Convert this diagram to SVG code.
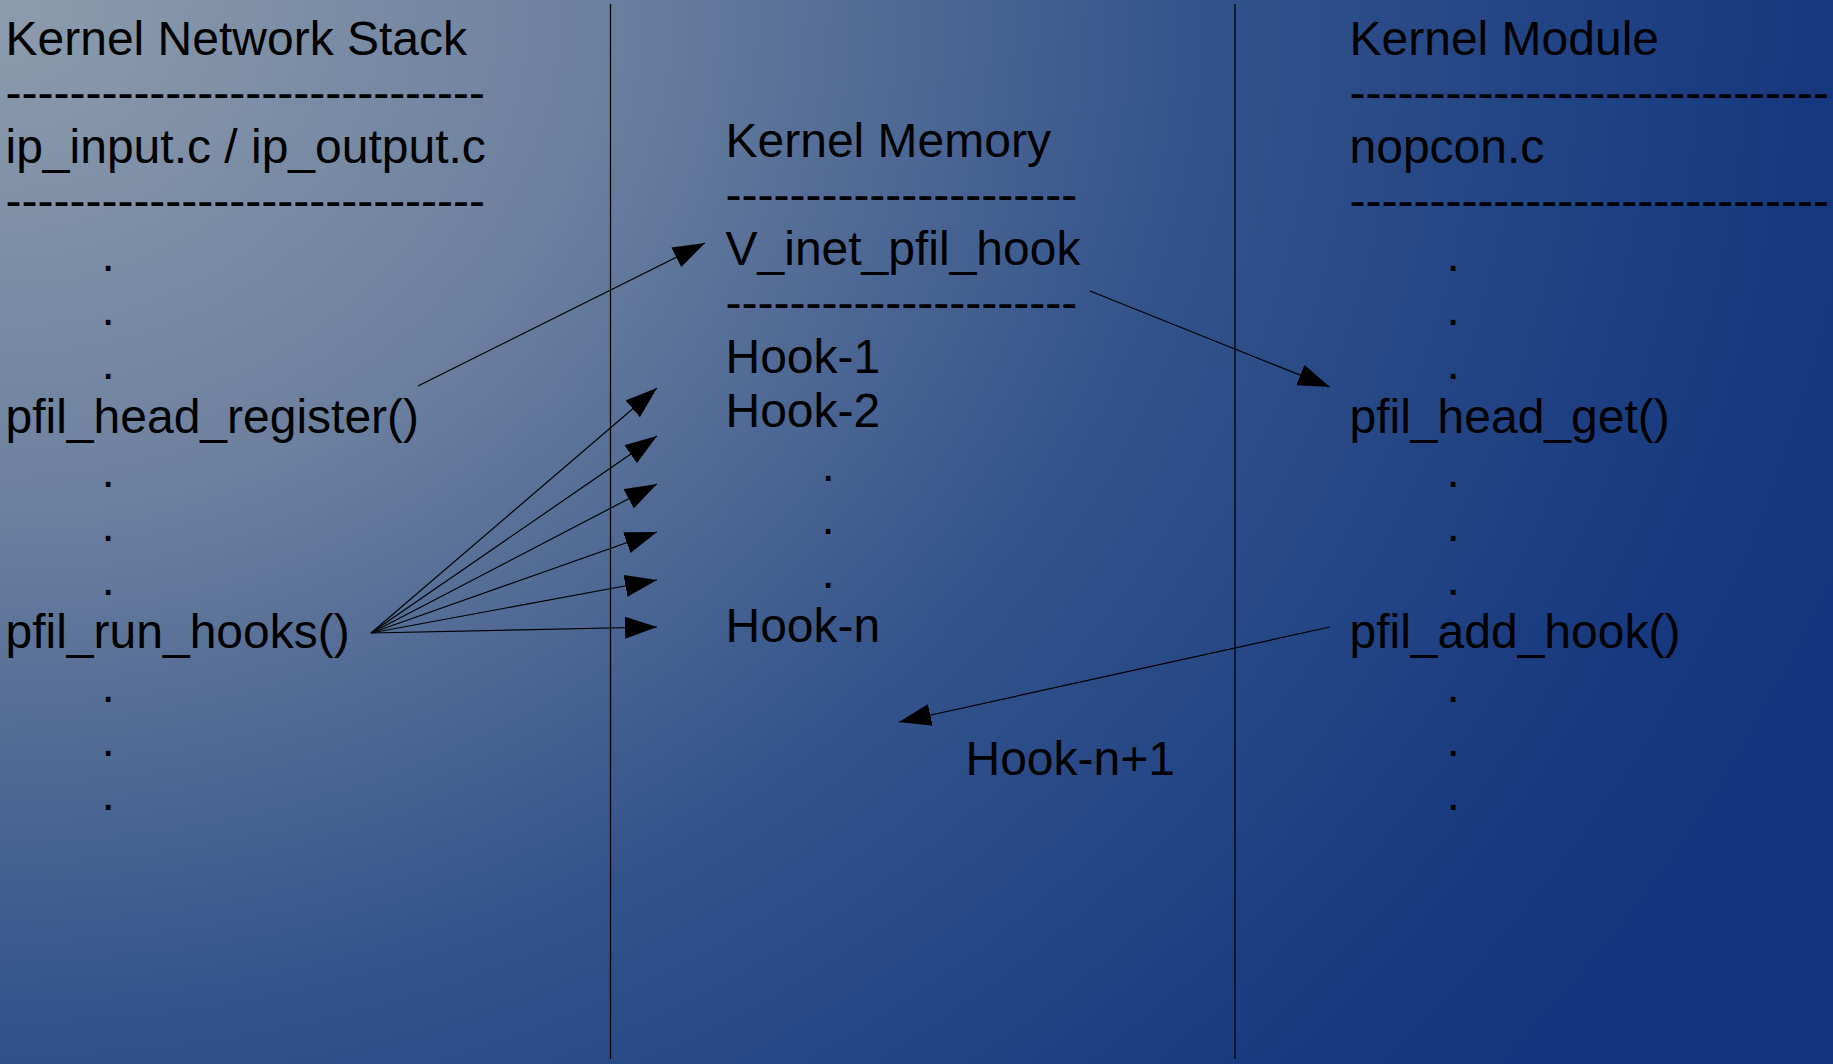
<svg xmlns="http://www.w3.org/2000/svg" width="1833" height="1064" viewBox="0 0 1833 1064">
<defs>
<radialGradient id="bg" gradientUnits="userSpaceOnUse" cx="0" cy="0" r="2000" gradientTransform="scale(1,0.85)">
<stop offset="0" stop-color="#8d9cad"/>
<stop offset="0.3" stop-color="#6c809f"/>
<stop offset="0.6" stop-color="#33538b"/>
<stop offset="0.9" stop-color="#17397f"/>
<stop offset="1" stop-color="#13357f"/>
</radialGradient>
<marker id="ah" markerUnits="userSpaceOnUse" markerWidth="34" markerHeight="24" refX="32" refY="11" orient="auto" viewBox="0 0 34 24">
<path d="M0,0 L32,11 L0,22 Z" fill="#000"/>
</marker>
<style>
text{font-family:"Liberation Sans",Arial,sans-serif;font-size:48px;fill:#000}
.sep{stroke:#000;stroke-width:1.3;fill:none}
.con{stroke:#000;stroke-width:1.2;fill:none;marker-end:url(#ah)}
</style>
</defs>
<rect x="0" y="0" width="1833" height="1064" fill="url(#bg)"/>
<g id="separators">
<line class="sep" x1="610.5" y1="4" x2="610.5" y2="1059"/>
<line class="sep" x1="1235" y1="4" x2="1235" y2="1059"/>
</g>
<g id="kernel-network-stack">
<text x="5.5" y="55">Kernel Network Stack</text>
<text x="5.5" y="109">------------------------------</text>
<text x="5.5" y="163">ip_input.c / ip_output.c</text>
<text x="5.5" y="217">------------------------------</text>
<text x="101.5" y="271">.</text>
<text x="101.5" y="325">.</text>
<text x="101.5" y="379">.</text>
<text x="5.5" y="433">pfil_head_register()</text>
<text x="101.5" y="487">.</text>
<text x="101.5" y="541">.</text>
<text x="101.5" y="595">.</text>
<text x="5.5" y="648">pfil_run_hooks()</text>
<text x="101.5" y="702">.</text>
<text x="101.5" y="756">.</text>
<text x="101.5" y="810">.</text>
</g>
<g id="kernel-memory">
<text x="725.5" y="157">Kernel Memory</text>
<text x="725.5" y="211">----------------------</text>
<text x="725.5" y="265">V_inet_pfil_hook</text>
<text x="725.5" y="319">----------------------</text>
<text x="725.5" y="373">Hook-1</text>
<text x="725.5" y="427">Hook-2</text>
<text x="821.5" y="481">.</text>
<text x="821.5" y="534">.</text>
<text x="821.5" y="588">.</text>
<text x="725.5" y="642">Hook-n</text>
</g>
<g id="hook-n-plus-1">
<text x="965.5" y="775">Hook-n+1</text>
</g>
<g id="kernel-module">
<text x="1349.5" y="55">Kernel Module</text>
<text x="1349.5" y="109">------------------------------</text>
<text x="1349.5" y="163">nopcon.c</text>
<text x="1349.5" y="217">------------------------------</text>
<text x="1446.5" y="271">.</text>
<text x="1446.5" y="325">.</text>
<text x="1446.5" y="379">.</text>
<text x="1349.5" y="433">pfil_head_get()</text>
<text x="1446.5" y="487">.</text>
<text x="1446.5" y="541">.</text>
<text x="1446.5" y="595">.</text>
<text x="1349.5" y="648">pfil_add_hook()</text>
<text x="1446.5" y="702">.</text>
<text x="1446.5" y="756">.</text>
<text x="1446.5" y="810">.</text>
</g>
<g id="connectors">
<line class="con" x1="418" y1="386" x2="705" y2="243"/>
<line class="con" x1="1090" y1="291" x2="1330" y2="387"/>
<line class="con" x1="1330" y1="627" x2="899" y2="722"/>
<line class="con" x1="371" y1="633" x2="657" y2="388"/>
<line class="con" x1="371" y1="633" x2="657" y2="436"/>
<line class="con" x1="371" y1="633" x2="657" y2="484"/>
<line class="con" x1="371" y1="633" x2="657" y2="532"/>
<line class="con" x1="371" y1="633" x2="657" y2="580"/>
<line class="con" x1="371" y1="633" x2="657" y2="627"/>
</g>
</svg>
